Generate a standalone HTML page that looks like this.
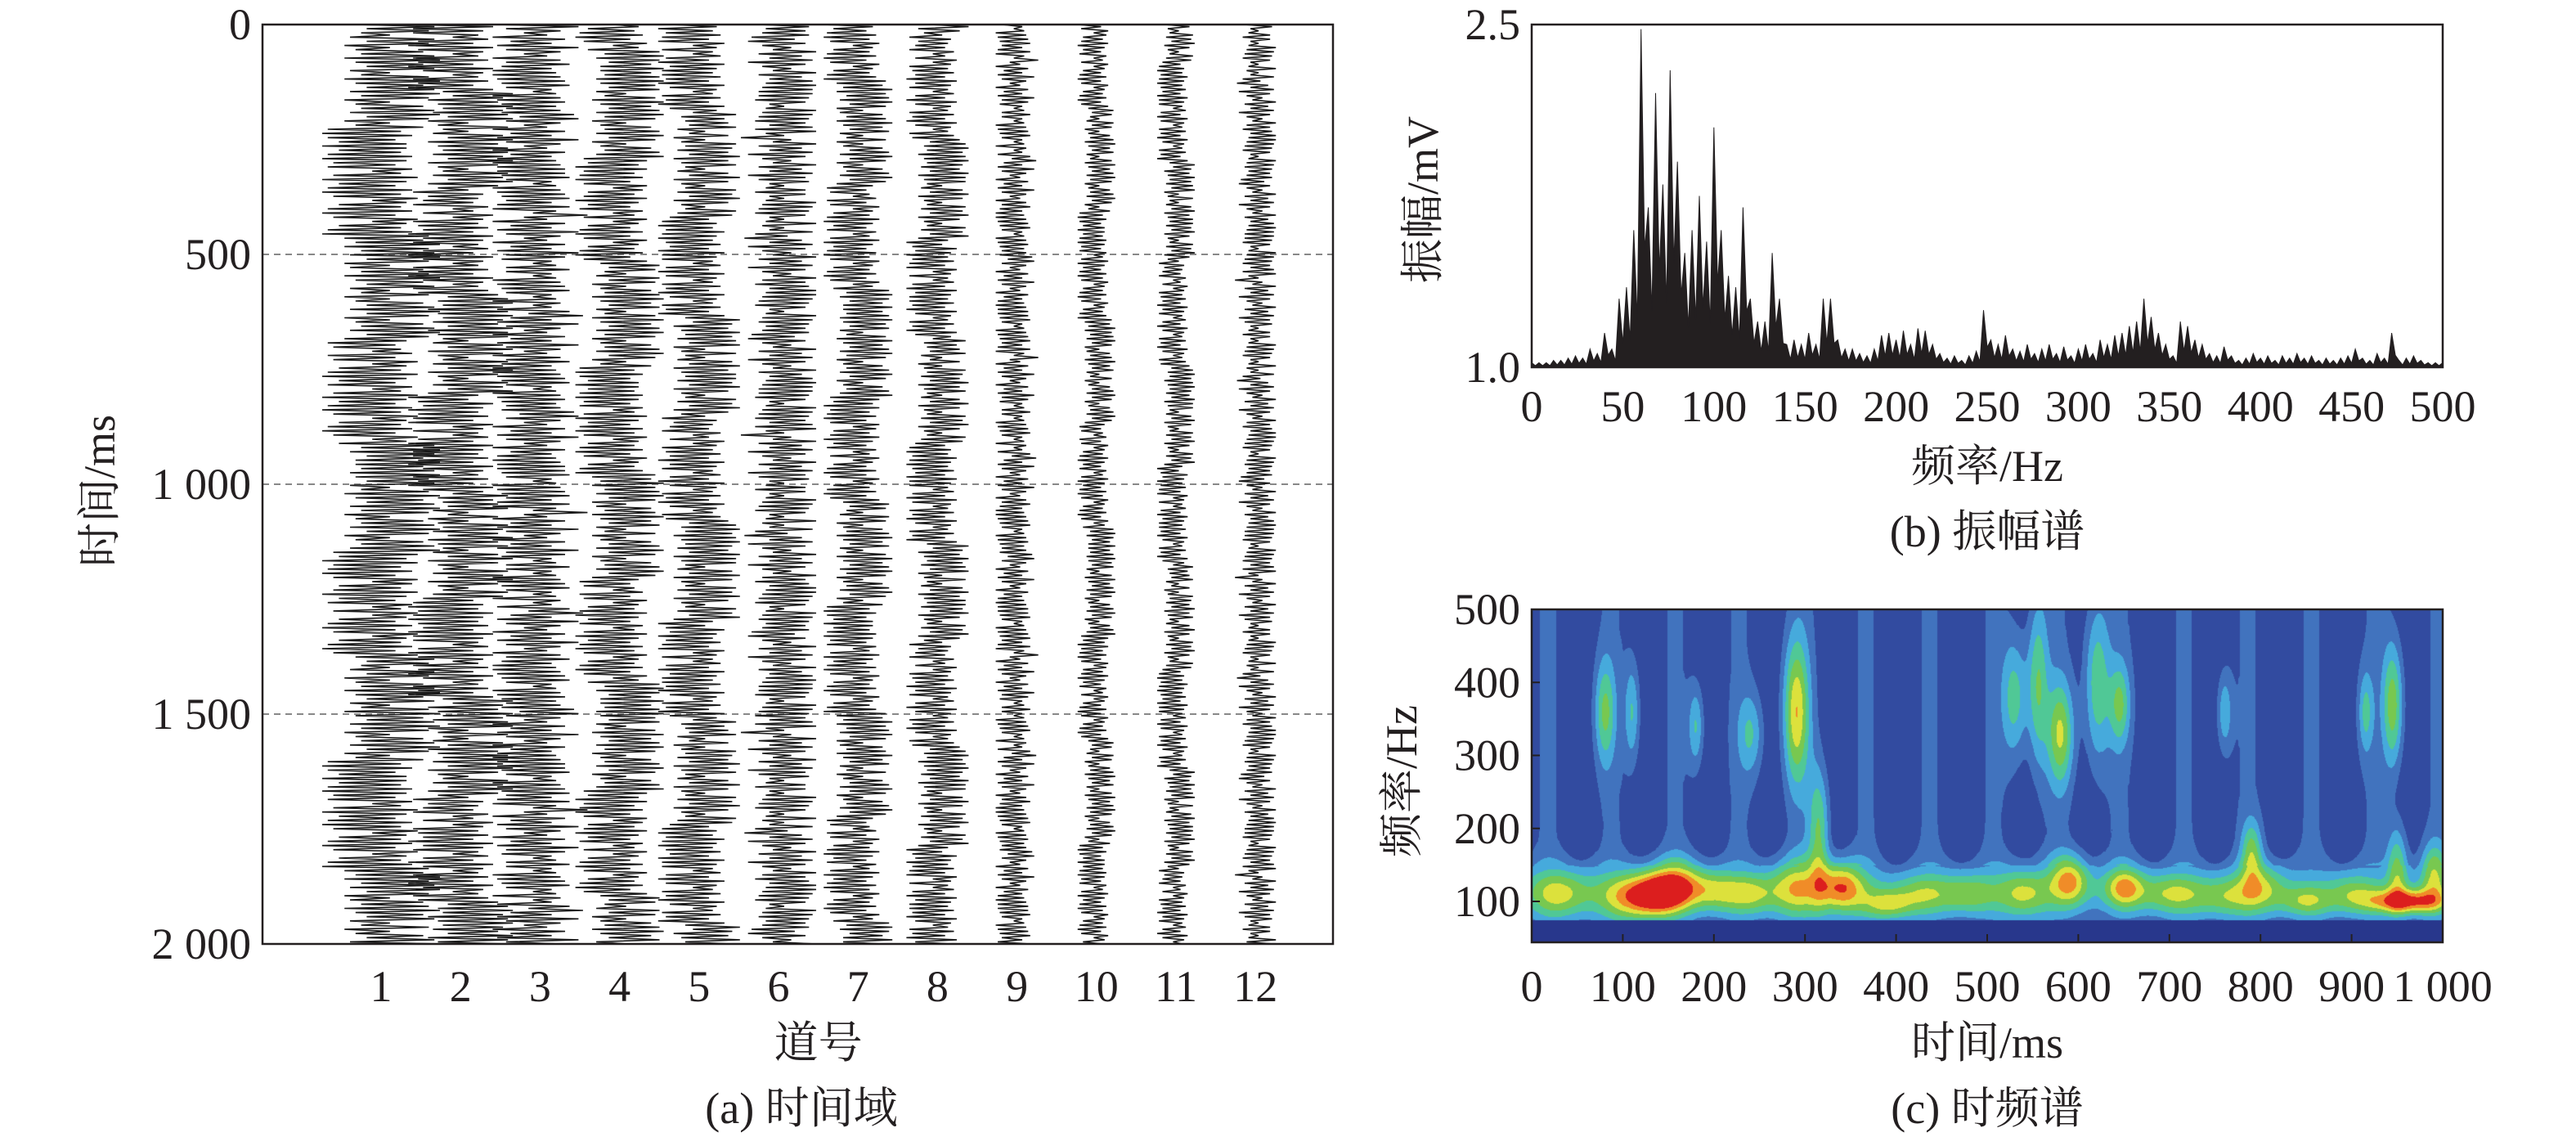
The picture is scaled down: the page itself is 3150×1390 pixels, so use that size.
<!DOCTYPE html>
<html><head><meta charset="utf-8">
<style>
html,body{margin:0;padding:0;background:#fff;}
#wrap{position:relative;width:3150px;height:1390px;overflow:hidden;}
svg{position:absolute;left:0;top:0;}
text{font-family:"Liberation Serif","Noto Serif CJK SC","Noto Sans CJK SC",serif;fill:#231f20;}
#hm{position:absolute;left:1873px;top:745px;}
</style></head>
<body>
<div id="wrap">
<canvas id="hm" width="1114" height="407"></canvas>
<svg id="svg" width="3150" height="1390"></svg>
</div>
<script>
// ---------- data ----------
const traceLabels = ["1","2","3","4","5","6","7","8","9","10","11","12"];
const traceGain = [72,64,58,54,50,46,42,38,26,23,23,25];
const traceStr = [
"3728591647382910564738291837465920183746592038475619283746501928374650192837465019283746591028374659102837465920183746592018374659201837465920183746598",
"5916283749502817364958201739485620173948562810394857261039485726103948562718394057261839405726183940572618394057261839405726183940578263915082736",
"8264917305826491730582649173058264917305826491738205619382750619382750619384275061938427506193842750619384275061938427506194837261950372816495"];
const timeTicks = [0,500,1000,1500,2000];
const timeTickLabels = ["0","500","1 000","1 500","2 000"];
const specValues = [1.02,1.02,1.02,1.03,1.03, 1.04,1.05,1.04,1.08,1.06, 1.15,1.08,1.3,1.35,1.6,
 2.48,1.7,2.2,1.8,2.3, 1.9,1.5,1.6,1.75,1.55, 2.05,1.6,1.4,1.35,1.7, 1.3,1.2,1.2,1.5,1.3,
 1.1,1.12,1.1,1.15,1.1, 1.3,1.3,1.12,1.08,1.08, 1.06,1.05,1.08,1.14,1.15, 1.12,1.16,1.1,1.17,1.16,
 1.1,1.06,1.04,1.05,1.03, 1.05,1.07,1.25,1.12,1.1, 1.14,1.08,1.07,1.1,1.06, 1.08,1.1,1.06,1.09,1.05,
 1.08,1.1,1.06,1.12,1.1, 1.14,1.15,1.18,1.2,1.3, 1.22,1.15,1.1,1.05,1.2, 1.18,1.12,1.1,1.06,1.05,
 1.09,1.05,1.03,1.04,1.06, 1.04,1.05,1.03,1.05,1.04, 1.06,1.04,1.05,1.03,1.04, 1.03,1.04,1.05,1.08,1.04,
 1.03,1.06,1.04,1.15,1.03, 1.04,1.05,1.03,1.02,1.02, 1.02];
const specFreqStep = 4;
const freqTicks = [0,50,100,150,200,250,300,350,400,450,500];
const tfTimeTicks = [0,100,200,300,400,500,600,700,800,900,1000];
const tfTimeLabels = ["0","100","200","300","400","500","600","700","800","900","1 000"];
const tfFreqTicks = [100,200,300,400,500];
const blobT = [30,110,140,160,200,240,290,340,390,430,480,540,590,650,700,760,800,850,900,960,990, 80,110,180,240,290,315,530,555,580,620,645,760,915,945,950,790];
const blobF = [110,105,110,125,115,110,120,120,95,110,110,110,130,120,110,105,120,100,110,100,140, 360,360,340,330,360,200,380,400,330,400,370,360,360,370,150,170];
const blobA = [0.4,0.5,0.55,0.45,0.35,0.35,0.45,0.6,0.4,0.3,0.3,0.4,0.55,0.5,0.35,0.3,0.35,0.35,0.3,0.7,0.4, 0.42,0.34,0.34,0.3,0.62,0.44,0.4,0.44,0.52,0.44,0.4,0.32,0.32,0.52,0.42,0.4];
const blobST = [25,25,20,20,20,20,20,18,20,25,20,20,15,15,25,25,20,20,20,30,10, 8,6,6,10,10,8,10,8,10,10,8,6,6,8,8,8];
const blobSF = [25,25,20,25,20,20,30,25,15,20,20,25,25,20,20,20,25,15,20,12,30, 50,50,40,40,70,60,60,80,50,80,40,40,40,60,40,30];

// ---------- helpers ----------
const NS="http://www.w3.org/2000/svg";
const svg=document.getElementById('svg');
const FS=54;
function mk(tag,attrs,parent){const e=document.createElementNS(NS,tag);for(const k in attrs)e.setAttribute(k,attrs[k]);(parent||svg).appendChild(e);return e;}
function txt(x,y,s,size,anchor,name,rot){const e=mk('text',{x:x,y:y,'font-size':size,'text-anchor':anchor||'middle'});e.textContent=s;
 if(rot)e.setAttribute('transform','rotate(-90 '+x+' '+y+')');
 
 return e;}

// ---------- panel a ----------
const aL=321,aR=1630,aT=30,aB=1154;
const aY=t=>aT+(t/2000)*(aB-aT);
const aX=i=>466+i*97.2;
timeTicks.forEach((t,i)=>{
 if(t>0&&t<2000){const g=mk('line',{x1:aL,x2:aR,y1:aY(t),y2:aY(t),stroke:'#888','stroke-width':2,'stroke-dasharray':'8,6'});
 
 }
 txt(aL-14,aY(t)+18,timeTickLabels[i],FS,'end','y-tick-'+t);
});
traceLabels.forEach((lab,k)=>{
 const s=traceStr[k%3], off=k*37, N=440, cx=aX(k);
 let pts=[];
 for(let i=0;i<N;i++){const d=+s[(i*3+off)%s.length];const sign=i%2?1:-1;
  pts.push((cx+sign*(0.15+0.85*d/9)*traceGain[k]).toFixed(1)+','+aY(i/(N-1)*2000).toFixed(1));}
 const p=mk('polyline',{points:pts.join(' '),fill:'none',stroke:'#1a1a1a','stroke-width':1.6});
 
 
 txt(cx,1224,lab,FS,'middle','trace-label-'+lab);
});
const fa=mk('rect',{x:aL,y:aT,width:aR-aL,height:aB-aT,fill:'none',stroke:'#231f20','stroke-width':2.5});


txt(aX(5.5),1293,'道号',FS,'middle','x-axis-title-a');
txt(140,600,'时间/ms',FS,'middle','y-axis-title-a',true);
txt(980,1373,'(a) 时间域',FS,'middle','caption-a');

// ---------- panel b ----------
const bL=1873,bR=2987,bT=30,bB=449;
const bX=f=>bL+f/500*(bR-bL);
const bY=v=>bB-(v-1)/1.5*(bB-bT);
let sp=[bX(0)+','+bB];
specValues.forEach((v,i)=>{sp.push(bX(i*specFreqStep).toFixed(1)+','+bY(v).toFixed(1));
 if(i<specValues.length-1)sp.push(bX(i*specFreqStep+2).toFixed(1)+','+bY(1+(v-1)*0.35).toFixed(1));});
sp.push(bX(500)+','+bB);
const spec=mk('polygon',{points:sp.join(' '),fill:'#231f20',stroke:'#231f20','stroke-width':1});


const fb=mk('rect',{x:bL,y:bT,width:bR-bL,height:bB-bT,fill:'none',stroke:'#231f20','stroke-width':2.5});


freqTicks.forEach(f=>txt(bX(f),515,String(f),FS,'middle','x-tick-b-'+f));
txt(bL-14,bT+18,'2.5',FS,'end','y-tick-b-2.5');
txt(bL-14,bB+18,'1.0',FS,'end','y-tick-b-1.0');
txt(2430,588,'频率/Hz',FS,'middle','x-axis-title-b');
txt(1758,244,'振幅/mV',FS,'middle','y-axis-title-b',true);
txt(2430,668,'(b) 振幅谱',FS,'middle','caption-b');

// ---------- panel c ----------
const cL=1873,cR=2987,cT=745,cB=1152;
const cX=t=>cL+t/1000*(cR-cL);
const cY=f=>cT+(500-f)/100*89.25;
(function(){
 const cv=document.getElementById('hm'),ctx=cv.getContext('2d');
 const W=cv.width,H=cv.height,img=ctx.createImageData(W,H);
 const cols=[[40,55,140],[50,75,160],[65,115,190],[70,170,220],[80,200,150],[120,200,80],[220,225,60],[240,140,40],[220,30,30]];
 for(let y=0;y<H;y++){const f=500-y/89.25*100;
  for(let x=0;x<W;x++){const t=x/W*1000;
   let v;
   if(f<72)v=0.02;
   else{v=0.2+0.07*Math.sin(t*0.09)*(f>150?1:0.4)+0.22*Math.exp(-Math.pow((f-115)/40,2));}
   for(let b=0;b<blobT.length;b++){const dt=(t-blobT[b])/blobST[b],df=(f-blobF[b])/blobSF[b];
    const q=dt*dt+df*df;if(q<9)v+=blobA[b]*Math.exp(-0.5*q);}
   if(f<75)v=Math.min(v,0.1);
   let lv=Math.min(cols.length-1,Math.max(0,Math.floor(v*8)));
   const c=cols[lv],o=(y*W+x)*4;img.data[o]=c[0];img.data[o+1]=c[1];img.data[o+2]=c[2];img.data[o+3]=255;}}
 ctx.putImageData(img,0,0);
})();
const fc=mk('rect',{x:cL,y:cT,width:cR-cL,height:cB-cT,fill:'none',stroke:'#231f20','stroke-width':2.5});


tfTimeTicks.forEach((t,i)=>{const l=mk('line',{x1:cX(t),x2:cX(t),y1:cB,y2:cB-10,stroke:'#231f20','stroke-width':2});
 
 
 txt(cX(t),1224,tfTimeLabels[i],FS,'middle','x-tick-c-'+t);});
tfFreqTicks.forEach(f=>{const l=mk('line',{x1:cL,x2:cL+10,y1:cY(f),y2:cY(f),stroke:'#231f20','stroke-width':2});
 
 
 txt(cL-14,cY(f)+18,String(f),FS,'end','y-tick-c-'+f);});
txt(2430,1293,'时间/ms',FS,'middle','x-axis-title-c');
txt(1732,955,'频率/Hz',FS,'middle','y-axis-title-c',true);
txt(2430,1373,'(c) 时频谱',FS,'middle','caption-c');
</script>
</body></html>
